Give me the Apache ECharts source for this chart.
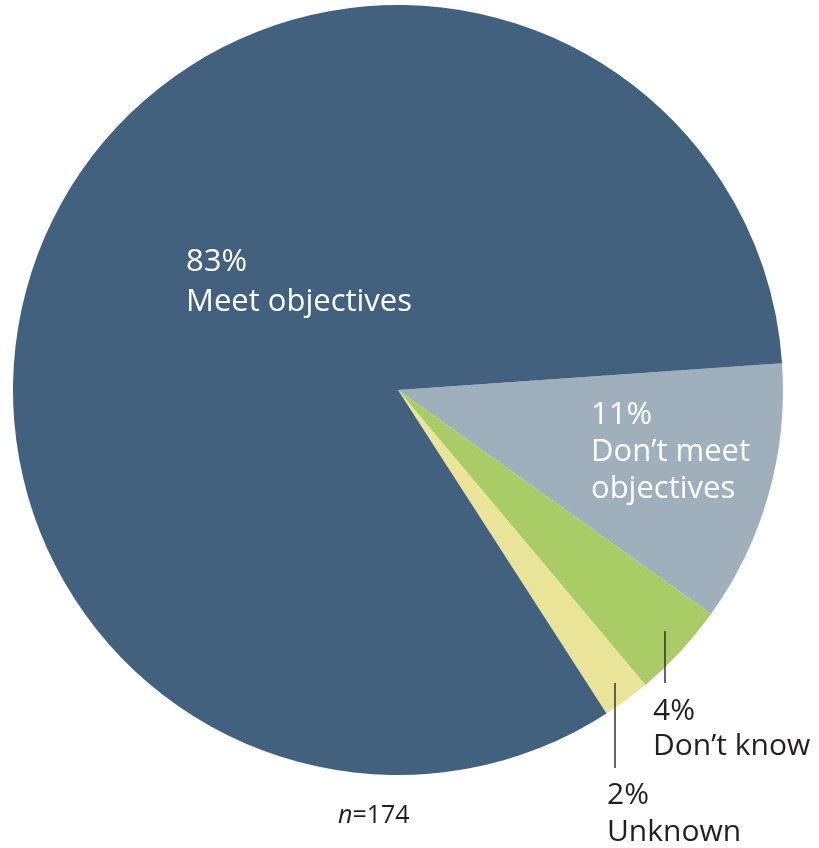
<!DOCTYPE html>
<html>
<head>
<meta charset="utf-8">
<script src="https://cdn.jsdelivr.net/npm/echarts@6/dist/echarts.min.js"></script>
<style>
  html, body { margin: 0; padding: 0; background: #fff; }
  #chart { width: 819px; height: 848px; }
</style>
</head>
<body>
<div id="chart"></div>
<script>
// Survey answers, in clockwise order starting just above 3 o'clock
const categories = ['Don\u2019t meet\nobjectives', 'Don\u2019t know', 'Unknown', 'Meet objectives'];
const shares = [11, 4, 2, 83];
const sliceColors = ['#9fb0bc', '#a9cc67', '#e9e497', '#41617e'];
const sampleNote = '174';

const FONT = '"Open Sans", Lato, sans-serif';
const cx = 398, cy = 390, r = 385;

// label anchor (top-left) per slice, relative to the pie centre
const labelSpots = [
  { dx: 193, dy: 7, lh: 37, color: '#ffffff', size: 31 },
  { dx: 255, dy: 304, lh: 35, color: '#231f20', size: 30 },
  { dx: 209, dy: 387, lh: 37, color: '#231f20', size: 30 },
  { dx: -212, dy: -148, lh: 40, color: '#ffffff', size: 31 }
];
// vertical leader lines for the two thin slices: [x offset from label left, top y, bottom y] relative to centre
const leaders = [null, [12, 241, 293], [8, 293, 378], null];

const chart = echarts.init(document.getElementById('chart'), null, { renderer: 'canvas' });

const data = categories.map((name, i) => ({
  name: name,
  value: shares[i],
  itemStyle: { color: sliceColors[i] },
  label: {
    color: labelSpots[i].color,
    fontSize: labelSpots[i].size,
    lineHeight: labelSpots[i].lh
  }
}));

// leader lines sit above the slices, so they are drawn as graphic lines
const leaderLines = [];
leaders.forEach((l, i) => {
  if (!l) return;
  const x = cx + labelSpots[i].dx + l[0];
  leaderLines.push({
    type: 'line',
    z: 100,
    shape: { x1: x, y1: cy + l[1], x2: x, y2: cy + l[2] },
    style: { stroke: '#333333', lineWidth: 1.5 }
  });
});

chart.setOption({
  animation: false,
  backgroundColor: '#ffffff',
  series: [{
    type: 'pie',
    center: [cx, cy],
    radius: [0, r],
    startAngle: 4,
    clockwise: true,
    avoidLabelOverlap: false,
    itemStyle: { borderWidth: 0 },
    emphasis: { disabled: true },
    label: {
      show: true,
      position: 'outside',
      fontFamily: FONT,
      align: 'left',
      formatter: p => p.value + '%\n' + p.name
    },
    labelLine: { show: false },
    labelLayout: function (p) {
      const s = labelSpots[p.dataIndex];
      return { x: cx + s.dx, y: cy + s.dy, align: 'left', verticalAlign: 'top' };
    },
    data: data
  }],
  graphic: leaderLines.concat([{
    type: 'text',
    left: 338,
    top: 803,
    style: {
      text: '{i|n}=' + sampleNote,
      fill: '#231f20',
      font: '25px ' + FONT,
      rich: {
        i: { fontStyle: 'italic', fontSize: 25, fontFamily: FONT, fill: '#231f20' }
      }
    }
  }])
});
</script>
</body>
</html>
